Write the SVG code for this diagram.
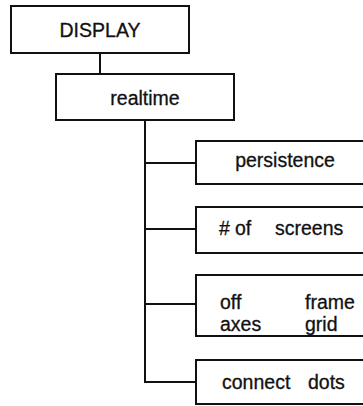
<svg xmlns="http://www.w3.org/2000/svg" width="363" height="406" viewBox="0 0 363 406">
<style>
rect{fill:#fff;stroke:#111;stroke-width:2}
.c line{stroke:#111;stroke-width:2}
text{font-family:"Liberation Sans",Arial,sans-serif;font-size:19.5px;fill:#111;stroke:#111;stroke-width:0.3}
.m{text-anchor:middle}
</style>
<rect x="0" y="0" width="363" height="406" style="stroke:none"/>
<g class="c" id="connectors">
<line x1="100" y1="53" x2="100" y2="74"/>
<line x1="145" y1="120" x2="145" y2="382"/>
<line x1="144" y1="163" x2="196" y2="163"/>
<line x1="144" y1="229" x2="196" y2="229"/>
<line x1="144" y1="304" x2="196" y2="304"/>
<line x1="144" y1="382" x2="196" y2="382"/>
</g>
<g id="display"><rect x="11" y="6" width="178" height="47"/><text class="m" x="100" y="37">DISPLAY</text></g>
<g id="realtime"><rect x="56" y="74" width="178" height="46"/><text class="m" x="145" y="105">realtime</text></g>
<g id="persistence"><rect x="196" y="141" width="180" height="43"/><text class="m" x="285" y="167">persistence</text></g>
<g id="screens"><rect x="196" y="207" width="180" height="46"/><text x="219" y="235">#<tspan x="235">of</tspan><tspan x="275">screens</tspan></text></g>
<g id="options"><rect x="196" y="275" width="180" height="61"/><text x="220" y="309">off<tspan x="305">frame</tspan></text><text x="220" y="331">axes<tspan x="305">grid</tspan></text></g>
<g id="connect"><rect x="196" y="360" width="180" height="44"/><text x="222" y="389">connect<tspan x="308">dots</tspan></text></g>
</svg>
